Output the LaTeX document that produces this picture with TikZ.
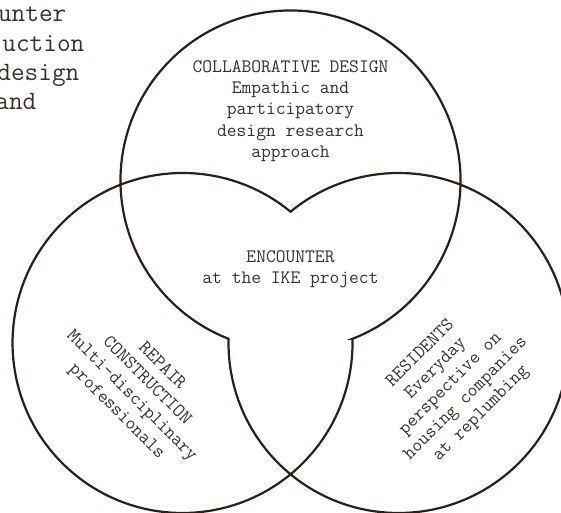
\documentclass[tikz,border=0pt]{standalone}
\usepackage{fontspec}
\definecolor{linec}{RGB}{43,31,24}
\definecolor{textc}{RGB}{58,48,43}
\begin{document}
\begin{tikzpicture}[x=1pt,y=1pt,
  lbl/.style={font=\ttfamily\fontsize{19}{21.3}\selectfont, text=textc, align=center, inner sep=0pt},
  frag/.style={font=\ttfamily\fontsize{26.5}{30}\selectfont, text=textc, anchor=base east, inner sep=0pt},
  ring/.style={draw=linec, line width=2.2pt, line join=miter}]
\useasboundingbox (0,0) rectangle (561,512);
\clip (0,0) rectangle (561,512);
% circle centres (radius 170) and the corner of the central region
\coordinate (T) at (290.5,331.5);
\coordinate (L) at (182.5,169);
\coordinate (R) at (398.5,169);
\coordinate (Rc) at (352.45,173.19);
\draw[ring] (Rc) arc[start angle=-68.63, end angle=248.63, radius=170]
  arc[start angle=178.59, end angle=489.44, radius=170]
  arc[start angle=50.56, end angle=361.41, radius=170] -- cycle;
% labels
\node[lbl] (collab) at (290.5,401) {COLLABORATIVE DESIGN\\Empathic and\\participatory\\design research\\approach};
\node[lbl] (enc) at (290.5,242.5) {ENCOUNTER\\at the IKE project};
\node[lbl, rotate=-45] (repair) at (139,123) {REPAIR\\CONSTRUCTION\\Multi-disciplinary\\professionals};
\node[lbl, rotate=45] (resid) at (451,128) {RESIDENTS\\Everyday\\perspective on\\housing companies\\at replumbing};
% cut-off text fragments at the top left
\node[frag] (f1) at (66.5,490.3) {unter};
\node[frag] (f2) at (84.5,460) {uction};
\node[frag] (f3) at (79.5,431) {design};
\node[frag] (f4) at (36.5,402) {and};
\end{tikzpicture}
\end{document}
